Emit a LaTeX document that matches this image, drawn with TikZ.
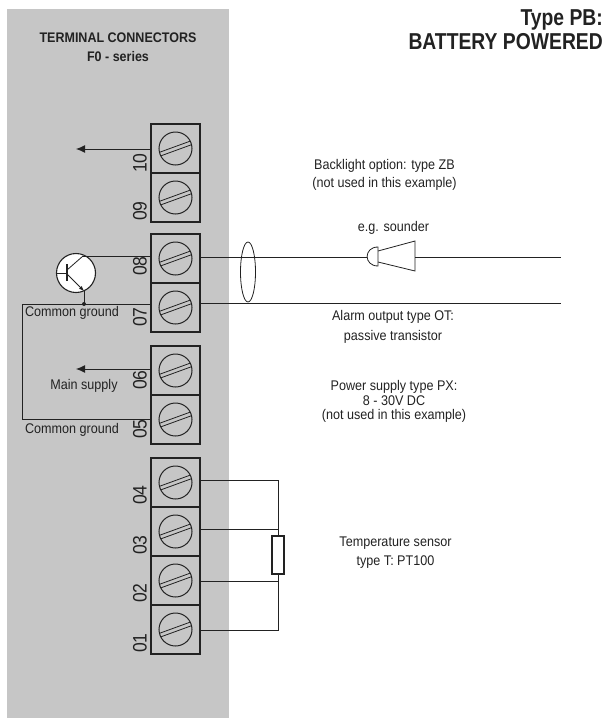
\documentclass[tikz,border=0pt]{standalone}
\usepackage{fontspec}
\setmainfont[FakeStretch=0.9]{Liberation Sans}
\newfontfamily\titlefont[FakeStretch=0.84]{Liberation Sans}
\usetikzlibrary{arrows.meta,shapes.geometric}
\definecolor{panel}{HTML}{C6C6C6}
\definecolor{ink}{HTML}{222222}
\tikzset{
  wire/.style={draw=ink,line width=1pt},
  thin wire/.style={draw=ink,line width=0.8pt},
  arrowed/.style={wire,-{Latex[length=9pt,width=8pt]}},
  termbox/.style={draw=ink,line width=1.1pt,minimum width=49pt,minimum height=49pt,inner sep=0pt,shape=rectangle},
  screw/.style={draw=ink,line width=1pt,circle,minimum size=33pt,inner sep=0pt},
  pinlabel/.style={rotate=90,font=\fontsize{19.5}{19.5}\selectfont,text=ink,inner sep=0pt},
  lab/.style={font=\fontsize{14}{17}\selectfont,text=ink,align=center,inner sep=0pt},
  headlab/.style={font=\fontsize{13.9}{19}\selectfont\bfseries,text=ink,align=center,inner sep=0pt},
  titlelab/.style={font=\titlefont\fontsize{23}{23.5}\selectfont\bfseries,text=ink,align=right,inner sep=0pt},
}
\newcommand{\terminal}[3]{%
  \node[termbox] (t#1) at (175.5,#2) {};
  \node[screw] (s#1) at (175.5,#2) {};
  \draw[thin wire,rotate around={20:(175.5,#2)}] (159.5,#2-1.9) -- (191.5,#2-1.9) (159.5,#2+1.9) -- (191.5,#2+1.9);
  \node[pinlabel] (p#1) at (140,#3) {#1};
}
\begin{document}
\begin{tikzpicture}[x=1pt,y=-1pt]
\useasboundingbox (0,0) rectangle (607,718);
\fill[panel] (7,9) rectangle (229,718);
\node[headlab] (head) at (118,47) {TERMINAL CONNECTORS\\F0 - series};
\node[titlelab,anchor=north east] (title) at (603,9.5) {Type PB:\\BATTERY POWERED};
\terminal{10}{148.5}{163}
\terminal{09}{197.5}{211}
\terminal{08}{258.5}{266}
\terminal{07}{307.5}{317}
\terminal{06}{370.5}{380}
\terminal{05}{419.5}{429}
\terminal{04}{482.5}{495}
\terminal{03}{531.5}{545}
\terminal{02}{580.5}{593}
\terminal{01}{629.5}{643}
% arrows
\coordinate (a10) at (76,149);
\coordinate (a06) at (76,369);
\draw[arrowed] (t10.west |- a10) -- (a10);
\draw[arrowed] (t06.west |- a06) -- (a06);
% transistor
\node[draw=ink,line width=1.1pt,fill=white,circle,minimum size=39pt,inner sep=0pt] (q) at (76,273) {};
\coordinate (qc) at (83,256);
\coordinate (qe) at (84,291);
\coordinate (qb) at (67,273);
\coordinate (jn) at (84,304);
\coordinate (gl) at (22,304);
\coordinate (gb) at (22,419);
\draw[thin wire] (q.west) -- (qb);
\draw[draw=ink,line width=1.1pt] (67,264) -- (67,281);
\draw[thin wire] (67,270) -- (qc);
\draw[thin wire,-{Latex[length=5pt,width=4pt]}] (67,274) -- (qe);
\draw[wire] (t08.west |- qc) -- (qc);
\draw[wire] (qe) -- (jn);
\fill[ink] (jn) circle (2pt);
\draw[wire] (t07.west |- jn) -- (gl) -- (gb) -- (t05.west |- gb);
% right wires
\coordinate (r08) at (561,257);
\coordinate (r07) at (561,303);
\coordinate (sl) at (367,257);
\coordinate (sr) at (415,257);
\draw[wire] (t08.east |- r08) -- (sl);
\draw[wire] (sr) -- (r08);
\draw[wire] (t07.east |- r07) -- (r07);
\node[draw=ink,line width=0.8pt,ellipse,minimum width=15pt,minimum height=60pt,inner sep=0pt] (shield) at (248,272) {};
% sounder
\draw[thin wire] (378,247) .. controls (363.5,247) and (363.5,266) .. (378,266) -- cycle;
\draw[thin wire] (378,251) -- (415,241) -- (415,271) -- (378,262);
% sensor
\coordinate (v4) at (278,480);
\coordinate (v3) at (278,529);
\coordinate (v2) at (278,581);
\coordinate (v1) at (278,630);
\draw[wire] (t04.east |- v4) -- (v4) -- (v1) -- (t01.east |- v1);
\draw[wire] (t03.east |- v3) -- (v3);
\draw[wire] (t02.east |- v2) -- (v2);
\node[draw=ink,line width=1.1pt,fill=white,minimum width=12pt,minimum height=38pt,inner sep=0pt] (rs) at (278,555) {};
% labels
\node[lab] (l1) at (384.5,175) {Backlight option: type ZB\\[1pt](not used in this example)};
\node[lab] (l2) at (393.5,228) {e.g. sounder};
\node[lab] (l3) at (393,327) {Alarm output type OT:\\[3pt]passive transistor};
\node[lab] (l4) at (394,401.5) {Power supply type PX:\\[-2.5pt]8 - 30V DC\\[-2.5pt](not used in this example)};
\node[lab] (l5) at (395.5,552.5) {Temperature sensor\\[2pt]type T: PT100};
\node[lab] (l6) at (72,313) {Common ground};
\node[lab] (l7) at (84,386) {Main supply};
\node[lab] (l8) at (72,430) {Common ground};
\end{tikzpicture}
\end{document}
